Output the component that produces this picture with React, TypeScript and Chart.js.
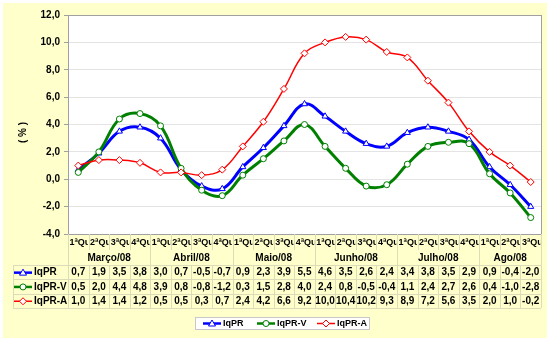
import React, { useEffect, useRef } from "react";
import { Chart, registerables } from "chart.js";

Chart.register(...registerables);

const months = ["Março/08", "Abril/08", "Maio/08", "Junho/08", "Julho/08", "Ago/08"];
const monthSpans = [4, 4, 4, 4, 4, 3];
const categories = [
  "1ªQuadrissemana", "2ªQuadrissemana", "3ªQuadrissemana", "4ªQuadrissemana",
  "1ªQuadrissemana", "2ªQuadrissemana", "3ªQuadrissemana", "4ªQuadrissemana",
  "1ªQuadrissemana", "2ªQuadrissemana", "3ªQuadrissemana", "4ªQuadrissemana",
  "1ªQuadrissemana", "2ªQuadrissemana", "3ªQuadrissemana", "4ªQuadrissemana",
  "1ªQuadrissemana", "2ªQuadrissemana", "3ªQuadrissemana", "4ªQuadrissemana",
  "1ªQuadrissemana", "2ªQuadrissemana", "3ªQuadrissemana",
];
const seriesNames = ["IqPR", "IqPR-V", "IqPR-A"];
const iqpr = [0.7, 1.9, 3.5, 3.8, 3.0, 0.7, -0.5, -0.7, 0.9, 2.3, 3.9, 5.5, 4.6, 3.5, 2.6, 2.4, 3.4, 3.8, 3.5, 2.9, 0.9, -0.4, -2.0];
const iqprV = [0.5, 2.0, 4.4, 4.8, 3.9, 0.8, -0.8, -1.2, 0.3, 1.5, 2.8, 4.0, 2.4, 0.8, -0.5, -0.4, 1.1, 2.4, 2.7, 2.6, 0.4, -1.0, -2.8];
const iqprA = [1.0, 1.4, 1.4, 1.2, 0.5, 0.5, 0.3, 0.7, 2.4, 4.2, 6.6, 9.2, 10.0, 10.4, 10.2, 9.3, 8.9, 7.2, 5.6, 3.5, 2.0, 1.0, -0.2];
const yMin = -4;
const yMax = 12;
const yStep = 2;
const yTitle = "( % )";

const FONT = "'Liberation Sans', Arial, sans-serif";
const COLORS = ["#0000FF", "#008000", "#FF0000"];
const STYLES = ["triangle", "circle", "rectRot"];
const fmt = (v: number) => v.toFixed(1).replace(".", ",");

function drawMarker(ctx: CanvasRenderingContext2D, style: string, x: number, y: number, color: string) {
  ctx.save();
  ctx.fillStyle = "#FFFFFF";
  ctx.strokeStyle = color;
  ctx.lineWidth = 1;
  ctx.beginPath();
  if (style === "triangle") {
    ctx.moveTo(x, y - 3.5);
    ctx.lineTo(x + 3.5, y + 2.5);
    ctx.lineTo(x - 3.5, y + 2.5);
    ctx.closePath();
  } else if (style === "circle") {
    ctx.arc(x, y, 3, 0, Math.PI * 2);
  } else {
    ctx.moveTo(x, y - 3.5);
    ctx.lineTo(x + 3.5, y);
    ctx.lineTo(x, y + 3.5);
    ctx.lineTo(x - 3.5, y);
    ctx.closePath();
  }
  ctx.fill();
  ctx.stroke();
  ctx.restore();
}

function drawKey(ctx: CanvasRenderingContext2D, i: number, x0: number, x1: number, y: number) {
  ctx.save();
  ctx.strokeStyle = COLORS[i];
  ctx.lineWidth = i === 2 ? 1.5 : 2.5;
  ctx.beginPath();
  ctx.moveTo(x0, y);
  ctx.lineTo(x1, y);
  ctx.stroke();
  ctx.restore();
  drawMarker(ctx, STYLES[i], (x0 + x1) / 2, y, COLORS[i]);
}

const decorPlugin = {
  id: "decor",
  beforeDraw(chart: any) {
    const { ctx, chartArea } = chart;
    ctx.save();
    ctx.fillStyle = "#FFFFFF";
    ctx.fillRect(0, 0, chart.width, chart.height);
    ctx.fillStyle = "#FFFFCC";
    ctx.fillRect(3, 3, 544, 335);
    ctx.fillStyle = "#FFFFFF";
    ctx.fillRect(chartArea.left, chartArea.top, chartArea.right - chartArea.left, chartArea.bottom - chartArea.top);
    ctx.restore();
  },
  afterDraw(chart: any) {
    const { ctx, chartArea } = chart;
    const xs = chart.scales.x;
    const n = categories.length;
    const colW = xs.getPixelForValue(1) - xs.getPixelForValue(0);
    const colLeft = (i: number) => xs.getPixelForValue(i) - colW / 2;
    const L = chartArea.left;
    const R = chartArea.right;
    const top = chartArea.bottom;
    const rCat = top + 16;
    const rMonth = top + 31;
    const rowH = 14.3;
    const rows = [rMonth, rMonth + rowH, rMonth + 2 * rowH, rMonth + 3 * rowH];
    const tableLeft = 13;

    ctx.save();
    // plot frame
    ctx.strokeStyle = "#A0A0A0";
    ctx.lineWidth = 1;
    ctx.strokeRect(Math.round(L) + 0.5, Math.round(chartArea.top) + 0.5, Math.round(R - L), Math.round(top - chartArea.top));

    // table lines
    ctx.strokeStyle = "#DCDCB8";
    ctx.beginPath();
    rows.forEach((y) => {
      ctx.moveTo(tableLeft, Math.round(y) + 0.5);
      ctx.lineTo(R, Math.round(y) + 0.5);
    });
    ctx.moveTo(tableLeft + 0.5, rows[0]);
    ctx.lineTo(tableLeft + 0.5, rows[3]);
    for (let i = 0; i <= n; i++) {
      const x = Math.round(i === n ? R : colLeft(i)) + 0.5;
      ctx.moveTo(x, top);
      ctx.lineTo(x, rCat);
      ctx.moveTo(x, rows[0]);
      ctx.lineTo(x, rows[3]);
    }
    let idx = 0;
    for (let m = 0; m <= months.length; m++) {
      const x = Math.round(m === months.length ? R : colLeft(idx)) + 0.5;
      ctx.moveTo(x, top);
      ctx.lineTo(x, rows[0]);
      if (m < months.length) idx += monthSpans[m];
    }
    ctx.stroke();

    // category labels (clipped to cells)
    ctx.fillStyle = "#000000";
    ctx.font = `bold 9px ${FONT}`;
    ctx.textBaseline = "middle";
    ctx.textAlign = "left";
    for (let i = 0; i < n; i++) {
      const x = colLeft(i);
      ctx.save();
      ctx.beginPath();
      ctx.rect(x + 1, top + 1, colW - 1.5, rCat - top);
      ctx.clip();
      ctx.fillText(categories[i], x + 1.5, top + 9);
      ctx.restore();
    }
    // month labels
    ctx.font = `bold 10px ${FONT}`;
    ctx.textAlign = "center";
    idx = 0;
    months.forEach((m, k) => {
      const x0 = colLeft(idx);
      const x1 = colLeft(idx) + colW * monthSpans[k];
      ctx.fillText(m, (x0 + x1) / 2, rCat + 8);
      idx += monthSpans[k];
    });
    // data rows
    const data = [iqpr, iqprV, iqprA];
    data.forEach((arr, r) => {
      const yc = rows[r] + rowH / 2 + 0.5;
      ctx.textAlign = "center";
      ctx.fillStyle = "#000000";
      ctx.font = `bold 10px ${FONT}`;
      arr.forEach((v, i) => {
        ctx.fillText(fmt(v), xs.getPixelForValue(i), yc);
      });
      drawKey(ctx, r, 14, 32, yc);
      ctx.textAlign = "left";
      ctx.fillStyle = "#000000";
      ctx.font = `bold 10px ${FONT}`;
      ctx.fillText(seriesNames[r], 34, yc);
    });

    // y axis title
    ctx.save();
    ctx.translate(23, (chartArea.top + top) / 2 + 8);
    ctx.rotate(-Math.PI / 2);
    ctx.textAlign = "center";
    ctx.font = `bold 10px ${FONT}`;
    ctx.fillStyle = "#000000";
    ctx.fillText(yTitle, 0, 0);
    ctx.restore();

    // legend
    const lgTop = 317;
    const lgBottom = 329;
    ctx.fillStyle = "#FFFFFF";
    ctx.fillRect(195, lgTop, 174, lgBottom - lgTop);
    ctx.strokeStyle = "#C8C8C8";
    ctx.strokeRect(195.5, lgTop + 0.5, 174, lgBottom - lgTop);
    const lgX = [203, 257, 317];
    ctx.font = `bold 9px ${FONT}`;
    seriesNames.forEach((name, i) => {
      const yc = (lgTop + lgBottom) / 2 + 0.5;
      drawKey(ctx, i, lgX[i], lgX[i] + 18, yc);
      ctx.fillStyle = "#000000";
      ctx.textAlign = "left";
      ctx.fillText(name, lgX[i] + 20, yc);
    });
    ctx.restore();
  },
};

export default function App() {
  const ref = useRef<HTMLCanvasElement | null>(null);
  useEffect(() => {
    if (!ref.current) return;
    const mk = (i: number, data: number[]) => ({
      label: seriesNames[i],
      data,
      borderColor: COLORS[i],
      backgroundColor: COLORS[i],
      borderWidth: i === 2 ? 1.5 : 3,
      pointStyle: STYLES[i],
      pointRadius: i === 1 ? 3 : 3.5,
      pointBackgroundColor: "#FFFFFF",
      pointBorderColor: COLORS[i],
      pointBorderWidth: 1,
      tension: 0.4,
      fill: false,
      order: 3 - i,
    });
    const chart = new Chart(ref.current, {
      type: "line",
      data: {
        labels: categories,
        datasets: [mk(0, iqpr), mk(1, iqprV), mk(2, iqprA)],
      },
      options: {
        animation: false,
        responsive: false,
        maintainAspectRatio: false,
        layout: { padding: { top: 15, right: 9, bottom: 108, left: 0 } },
        plugins: { legend: { display: false }, tooltip: { enabled: false } },
        scales: {
          x: { display: false, offset: true },
          y: {
            min: yMin,
            max: yMax,
            afterFit: (s: any) => {
              s.width = 68;
            },
            ticks: {
              stepSize: yStep,
              color: "#000000",
              font: { family: FONT, size: 10, weight: "bold" },
              padding: 4,
              callback: (v: any) => fmt(Number(v)),
            },
            grid: {
              color: "#E4E4E4",
              tickColor: "#A0A0A0",
              tickLength: 4,
            },
            border: { display: true, color: "#A0A0A0" },
          },
        },
      },
      plugins: [decorPlugin],
    } as any);
    return () => chart.destroy();
  }, []);
  return (
    <div style={{ position: "fixed", left: 0, top: 0, width: 550, height: 342 }}>
      <canvas ref={ref} width={550} height={342} style={{ width: 550, height: 342 }} />
    </div>
  );
}
